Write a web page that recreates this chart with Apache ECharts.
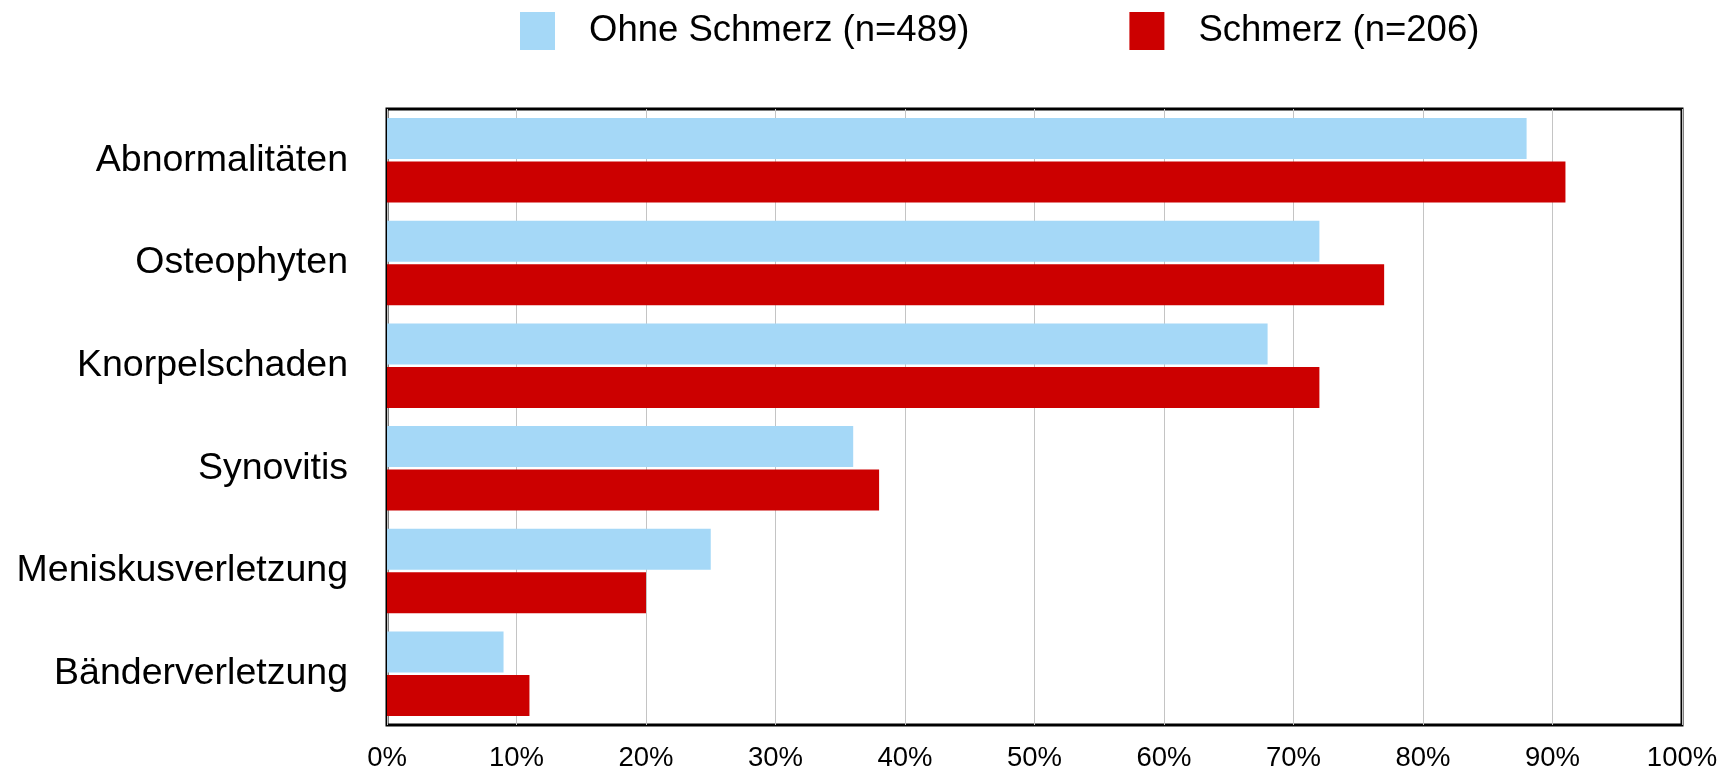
<!DOCTYPE html>
<html>
<head>
<meta charset="utf-8">
<script src="https://cdn.jsdelivr.net/npm/echarts@6/dist/echarts.min.js"></script>
<style>
  html, body { margin: 0; padding: 0; background: #fff; }
</style>
</head>
<body>
<div id="main" style="width: 1726px; height: 766px;"></div>
<script>
// Befunde (von oben nach unten)
var categories = ['Abnormalitäten', 'Osteophyten', 'Knorpelschaden', 'Synovitis', 'Meniskusverletzung', 'Bänderverletzung']
var seriesNames = ['Ohne Schmerz (n=489)', 'Schmerz (n=206)']
var ohneSchmerz = [88, 72, 68, 36, 25, 9]
var schmerz = [91, 77, 72, 38, 20, 11]

var blue = '#a5d8f7'
var red = '#cc0000'

var myChart = echarts.init(document.getElementById('main'))

var option = {
  animation: false,
  textStyle: { fontFamily: 'Liberation Sans, Arial, Helvetica, sans-serif' },
  legend: {
    data: seriesNames,
    left: 515,
    top: 7,
    itemWidth: 35,
    itemHeight: 38,
    itemGap: 160,
    icon: 'rect',
    textStyle: {
      fontSize: 36.5,
      color: '#000',
      padding: [4, 0, 0, 29]
    }
  },
  grid: {
    left: 387,
    right: 44,
    top: 109,
    bottom: 41,
    outerBoundsMode: 'none',
    containLabel: false,
    show: true,
    borderColor: '#000',
    borderWidth: 3,
    backgroundColor: 'transparent'
  },
  xAxis: {
    type: 'value',
    min: 0,
    max: 100,
    interval: 10,
    axisLine: { show: false },
    axisTick: { show: false },
    axisLabel: {
      formatter: '{value}%',
      fontSize: 27.5,
      color: '#000',
      margin: 19
    },
    splitLine: { show: true, lineStyle: { color: '#c4c4c4', width: 1 } }
  },
  yAxis: {
    type: 'category',
    data: categories,
    inverse: true,
    axisLine: { show: false },
    axisTick: { show: false },
    axisLabel: {
      fontSize: 37.5,
      color: '#000',
      margin: 39
    },
    splitLine: { show: false }
  },
  series: [
    {
      name: seriesNames[0],
      type: 'bar',
      data: ohneSchmerz,
      barWidth: 41,
      barGap: '6%',
      itemStyle: { color: blue }
    },
    {
      name: seriesNames[1],
      type: 'bar',
      data: schmerz,
      barWidth: 41,
      barGap: '6%',
      itemStyle: { color: red }
    }
  ]
}

myChart.setOption(option)
</script>
</body>
</html>
